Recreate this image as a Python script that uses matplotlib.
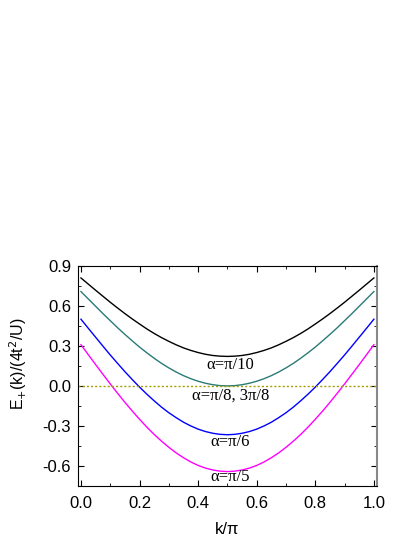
import matplotlib.pyplot as plt
from matplotlib.ticker import MultipleLocator

k = [0.0, 0.025, 0.05, 0.075, 0.1, 0.125, 0.15, 0.175, 0.2, 0.225, 0.25,
     0.275, 0.3, 0.325, 0.35, 0.375, 0.4, 0.425, 0.45, 0.475, 0.5,
     0.525, 0.55, 0.575, 0.6, 0.625, 0.65, 0.675, 0.7, 0.725, 0.75,
     0.775, 0.8, 0.825, 0.85, 0.875, 0.9, 0.925, 0.95, 0.975, 1.0]

e_pi10 = [0.809, 0.763, 0.717, 0.672, 0.627, 0.584, 0.542, 0.502, 0.464, 0.427, 0.393,
          0.362, 0.334, 0.308, 0.285, 0.266, 0.250, 0.237, 0.228, 0.223, 0.221,
          0.223, 0.228, 0.237, 0.250, 0.266, 0.285, 0.308, 0.334, 0.362, 0.393,
          0.427, 0.464, 0.502, 0.542, 0.584, 0.627, 0.672, 0.717, 0.763, 0.809]
e_pi8 = [0.707, 0.652, 0.597, 0.542, 0.489, 0.436, 0.386, 0.338, 0.291, 0.248, 0.207,
         0.169, 0.135, 0.104, 0.077, 0.054, 0.035, 0.020, 0.009, 0.002, 0.0,
         0.002, 0.009, 0.020, 0.035, 0.054, 0.077, 0.104, 0.135, 0.169, 0.207,
         0.248, 0.291, 0.338, 0.386, 0.436, 0.489, 0.542, 0.597, 0.652, 0.707]
e_pi6 = [0.5, 0.432, 0.365, 0.298, 0.232, 0.169, 0.107, 0.048, -0.009, -0.062, -0.112,
         -0.159, -0.201, -0.238, -0.272, -0.300, -0.324, -0.342, -0.355, -0.363, -0.366,
         -0.363, -0.355, -0.342, -0.324, -0.300, -0.272, -0.238, -0.201, -0.159, -0.112,
         -0.062, -0.009, 0.048, 0.107, 0.169, 0.232, 0.298, 0.365, 0.432, 0.5]
e_pi5 = [0.309, 0.234, 0.160, 0.087, 0.015, -0.055, -0.123, -0.188, -0.250, -0.309, -0.364,
         -0.414, -0.460, -0.502, -0.538, -0.570, -0.596, -0.616, -0.630, -0.639, -0.642,
         -0.639, -0.630, -0.616, -0.596, -0.570, -0.538, -0.502, -0.460, -0.414, -0.364,
         -0.309, -0.250, -0.188, -0.123, -0.055, 0.015, 0.087, 0.160, 0.234, 0.309]

labels = ["\u03b1=\u03c0/10", "\u03b1=\u03c0/8, 3\u03c0/8", "\u03b1=\u03c0/6", "\u03b1=\u03c0/5"]
label_pos = [(0.51, 0.155), (0.51, -0.07), (0.51, -0.42), (0.51, -0.685)]

fig = plt.figure(figsize=(4.15, 5.37), dpi=100)
ax = fig.add_axes([0.188, 0.095, 0.720, 0.41])

ax.plot(k, e_pi10, color="black", lw=1)
ax.plot(k, e_pi8, color="#2a7a78", lw=1)
ax.plot(k, e_pi6, color="blue", lw=1)
ax.plot(k, e_pi5, color="magenta", lw=1)
ax.axhline(0, color="#a0a000", lw=1, ls=(0, (1.5, 1.5)))

for txt, (x, y) in zip(labels, label_pos):
    ax.text(x, y, txt, ha="center", va="center", fontsize=12,
            family="Liberation Serif")

ax.set_xlim(-0.01, 1.01)
ax.set_ylim(-0.75, 0.9)
ax.xaxis.set_major_locator(MultipleLocator(0.2))
ax.xaxis.set_minor_locator(MultipleLocator(0.1))
ax.yaxis.set_major_locator(MultipleLocator(0.3))
ax.yaxis.set_minor_locator(MultipleLocator(0.15))
ax.xaxis.set_major_formatter(plt.FormatStrFormatter("%.1f"))
ax.yaxis.set_major_formatter(plt.FormatStrFormatter("%.1f"))
ax.tick_params(which="both", direction="in", top=True, right=True,
               labelsize=12, labelfontfamily="Liberation Sans")
ax.tick_params(which="major", length=4)
ax.tick_params(which="minor", length=2.5)
ax.tick_params(axis="x", pad=7)
ax.tick_params(axis="y", pad=5)
ax.spines["right"].set_color("#888888")
ax.spines["right"].set_linewidth(1.5)

ax.set_xlabel("k/\u03c0", fontsize=12, family="Liberation Sans")
ax.xaxis.set_label_coords(0.5, -0.165)
ax.set_ylabel("E$_{+}$(k)/(4t$^{2}$/U)", fontsize=11.5, family="Liberation Sans")
ax.yaxis.set_label_coords(-0.165, 0.555)

fig.savefig("out.png", dpi=100)
